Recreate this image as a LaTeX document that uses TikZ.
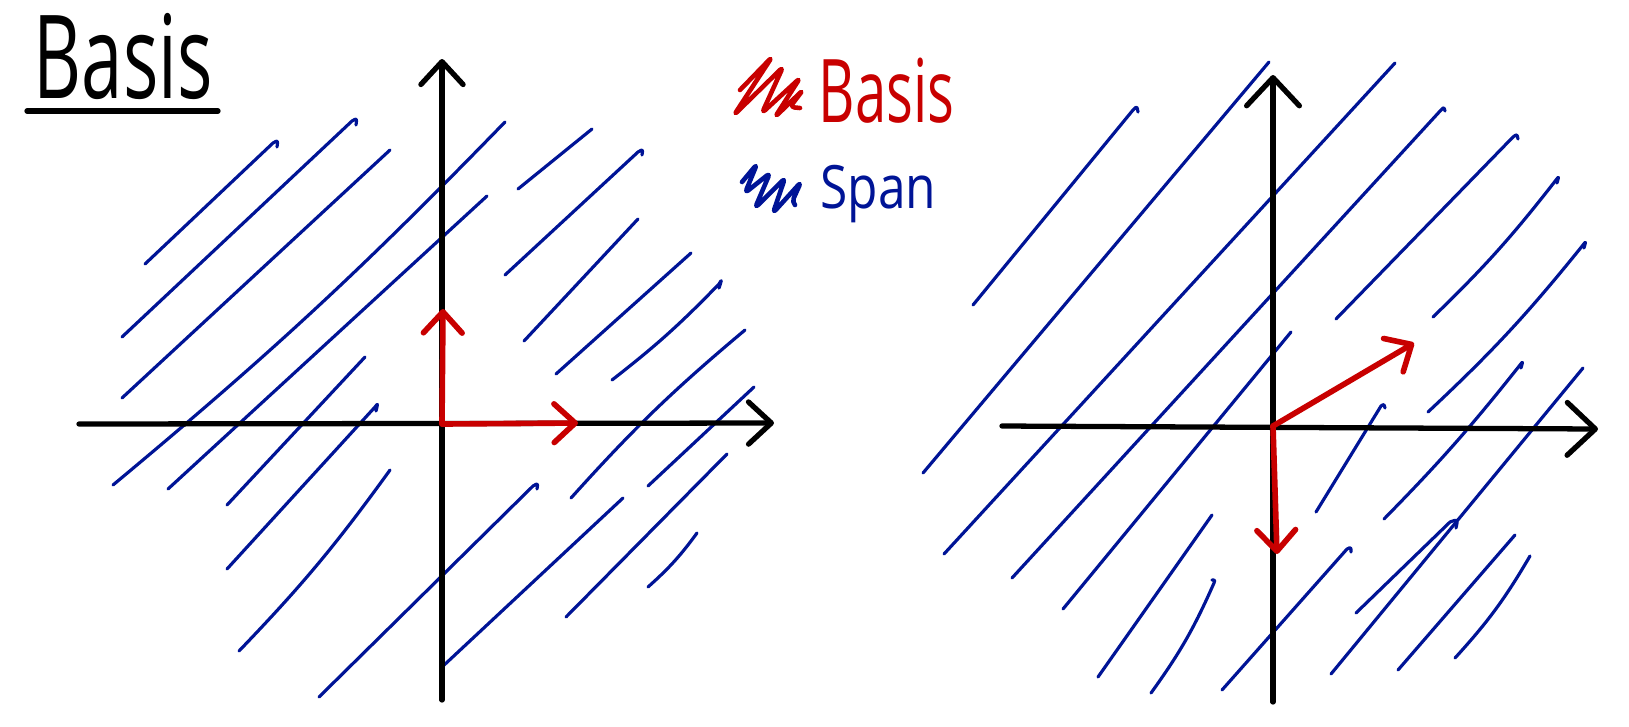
\documentclass[tikz,border=0pt]{standalone}
\usepackage{fontspec}
\newfontfamily\handfont[FakeStretch=0.64]{Open Sans}
\newfontfamily\handspan[FakeStretch=0.83]{Open Sans}
\usetikzlibrary{arrows.meta, calc}
\definecolor{penred}{RGB}{200,0,0}
\definecolor{penblue}{RGB}{0,20,150}

\begin{document}
\begin{tikzpicture}[
  x=0.01cm, y=-0.01cm,
  line cap=round, line join=round,
  axisline/.style={line width=1.5pt, draw=black, -{Straight Barb[round, length=6.5pt, width=12pt]}},
  bigaxis/.style ={line width=1.5pt, draw=black, -{Straight Barb[round, length=8pt, width=15pt]}},
  basisvec/.style={line width=1.6pt, draw=penred, -{Straight Barb[round, length=6pt, width=11pt]}},
  span/.style    ={line width=0.9pt, draw=penblue},
  scribble/.style={line width=1.3pt, draw=#1, rounded corners=1.2pt},
  uline/.style   ={line width=1.5pt, draw=black},
  hand/.style    ={inner sep=0pt, anchor=base west},
]
\useasboundingbox (0,0) rectangle (1629,726);

% ---------- Title ----------
\node[hand, font=\handfont\fontsize{33}{36}\selectfont] (title) at (33,98) {Basis};
\draw[uline] (27,111) -- (218,111);

% ---------- Legend ----------
\draw[scribble=penred] (740,90) -- (772,57) -- (734,115) -- (783,67) -- (762,113) -- (800,78) -- (775,117) -- (803,90) -- (790,107) -- (800,108);
\node[hand, penred, font=\handfont\fontsize{25}{28}\selectfont] (keybasis) at (818,122) {Basis};
\draw[scribble=penblue] (742,182) -- (757,164) -- (745,193) -- (770,173) -- (755,208) -- (785,178) -- (773,213) -- (801,182) -- (792,202) -- (795,205);
\node[hand, penblue, font=\handspan\fontsize{17}{20}\selectfont] (keyspan) at (820,208) {Span};

% ---------- Left plane: span hatching ----------
\draw[span] (145,264) -- (273,143) .. controls +(5,-3) .. +(4,4);
\draw[span] (122,337) -- (352,121) .. controls +(5,-3) .. +(4,4);
\draw[span] (122,398) -- (390,150);
\draw[span] (113,485) to[bend right=3] (505,122);
\draw[span] (168,489) -- (487,196);
\draw[span] (227,505) -- (365,357);
\draw[span] (227,569) -- (375,407) .. controls +(3,-4) .. +(1,4);
\draw[span] (239,651) to[bend right=4] (390,470);
\draw[span] (319,697) -- (533,486) .. controls +(5,-3) .. +(4,3);
\draw[span] (442,667) -- (623,498);
\draw[span] (566,617) -- (727,454);
\draw[span] (648,587) to[bend right=6] (697,533);
\draw[span] (571,498) to[bend left=4] (745,330);
\draw[span] (648,486) -- (754,387);
\draw[span] (518,189) -- (592,129);
\draw[span] (505,275) -- (638,152) .. controls +(5,-3) .. +(4,3);
\draw[span] (524,341) -- (638,219);
\draw[span] (556,374) -- (691,253);
\draw[span] (612,380) to[bend right=4] (719,284) .. controls +(3,-5) .. +(0,4);

% ---------- Left plane: axes + standard basis ----------
\coordinate (oL) at (442,424);
\coordinate (xL0) at (79,424);  \coordinate (xL1) at (774,423);
\coordinate (yL0) at (442,700); \coordinate (yL1) at (442,59);
\draw[axisline] (xL0) -- (xL1);
\draw[axisline] (yL0) -- (yL1);
\coordinate (eL1) at (578,423);
\coordinate (eL2) at (443,309);
\draw[basisvec] (oL) -- (eL1);
\draw[basisvec] (oL) -- (eL2);

% ---------- Right plane: span hatching ----------
\draw[span] (973,305) -- (1133,110) .. controls +(4,-4) .. +(5,2);
\draw[span] (923,473) -- (1269,62);
\draw[span] (944,554) -- (1395,63);
\draw[span] (1012,578) -- (1441,110) .. controls +(3,-3) .. +(4,1);
\draw[span] (1063,609) -- (1291,332);
\draw[span] (1336,319) -- (1513,137) .. controls +(4,-3) .. +(5,2);
\draw[span] (1433,317) to[bend right=4] (1556,180) .. controls +(3,-4) .. +(1,3);
\draw[span] (1428,412) to[bend right=4] (1583,245) .. controls +(3,-4) .. +(1,3);
\draw[span] (1384,519) to[bend right=3] (1520,365) .. controls +(3,-4) .. +(1,3);
\draw[span] (1316,512) -- (1381,406) .. controls +(3,-2) .. +(4,2);
\draw[span] (1331,674) -- (1583,368);
\draw[span] (1356,613) -- (1450,522) .. controls +(8,-3) .. +(6,6);
\draw[span] (1398,670) -- (1515,535);
\draw[span] (1455,658) to[bend right=6] (1530,556);
\draw[span] (1098,677) -- (1212,515);
\draw[span] (1151,693) to[bend right=6] (1214,583) .. controls +(1,-3) .. +(-2,-3);
\draw[span] (1222,690) -- (1347,549) .. controls +(4,-2) .. +(4,3);

% ---------- Right plane: axes + other basis ----------
\coordinate (oR) at (1273,426);
\coordinate (xR0) at (1002,426); \coordinate (xR1) at (1598,429);
\coordinate (yR0) at (1273,702); \coordinate (yR1) at (1273,75);
\draw[bigaxis] (xR0) -- (xR1);
\draw[bigaxis] (yR0) -- (yR1);
\coordinate (bR1) at (1414,343);
\coordinate (bR2) at (1277,554);
\draw[basisvec] (oR) -- (bR1);
\draw[basisvec] (oR) -- (bR2);

\end{tikzpicture}
\end{document}
